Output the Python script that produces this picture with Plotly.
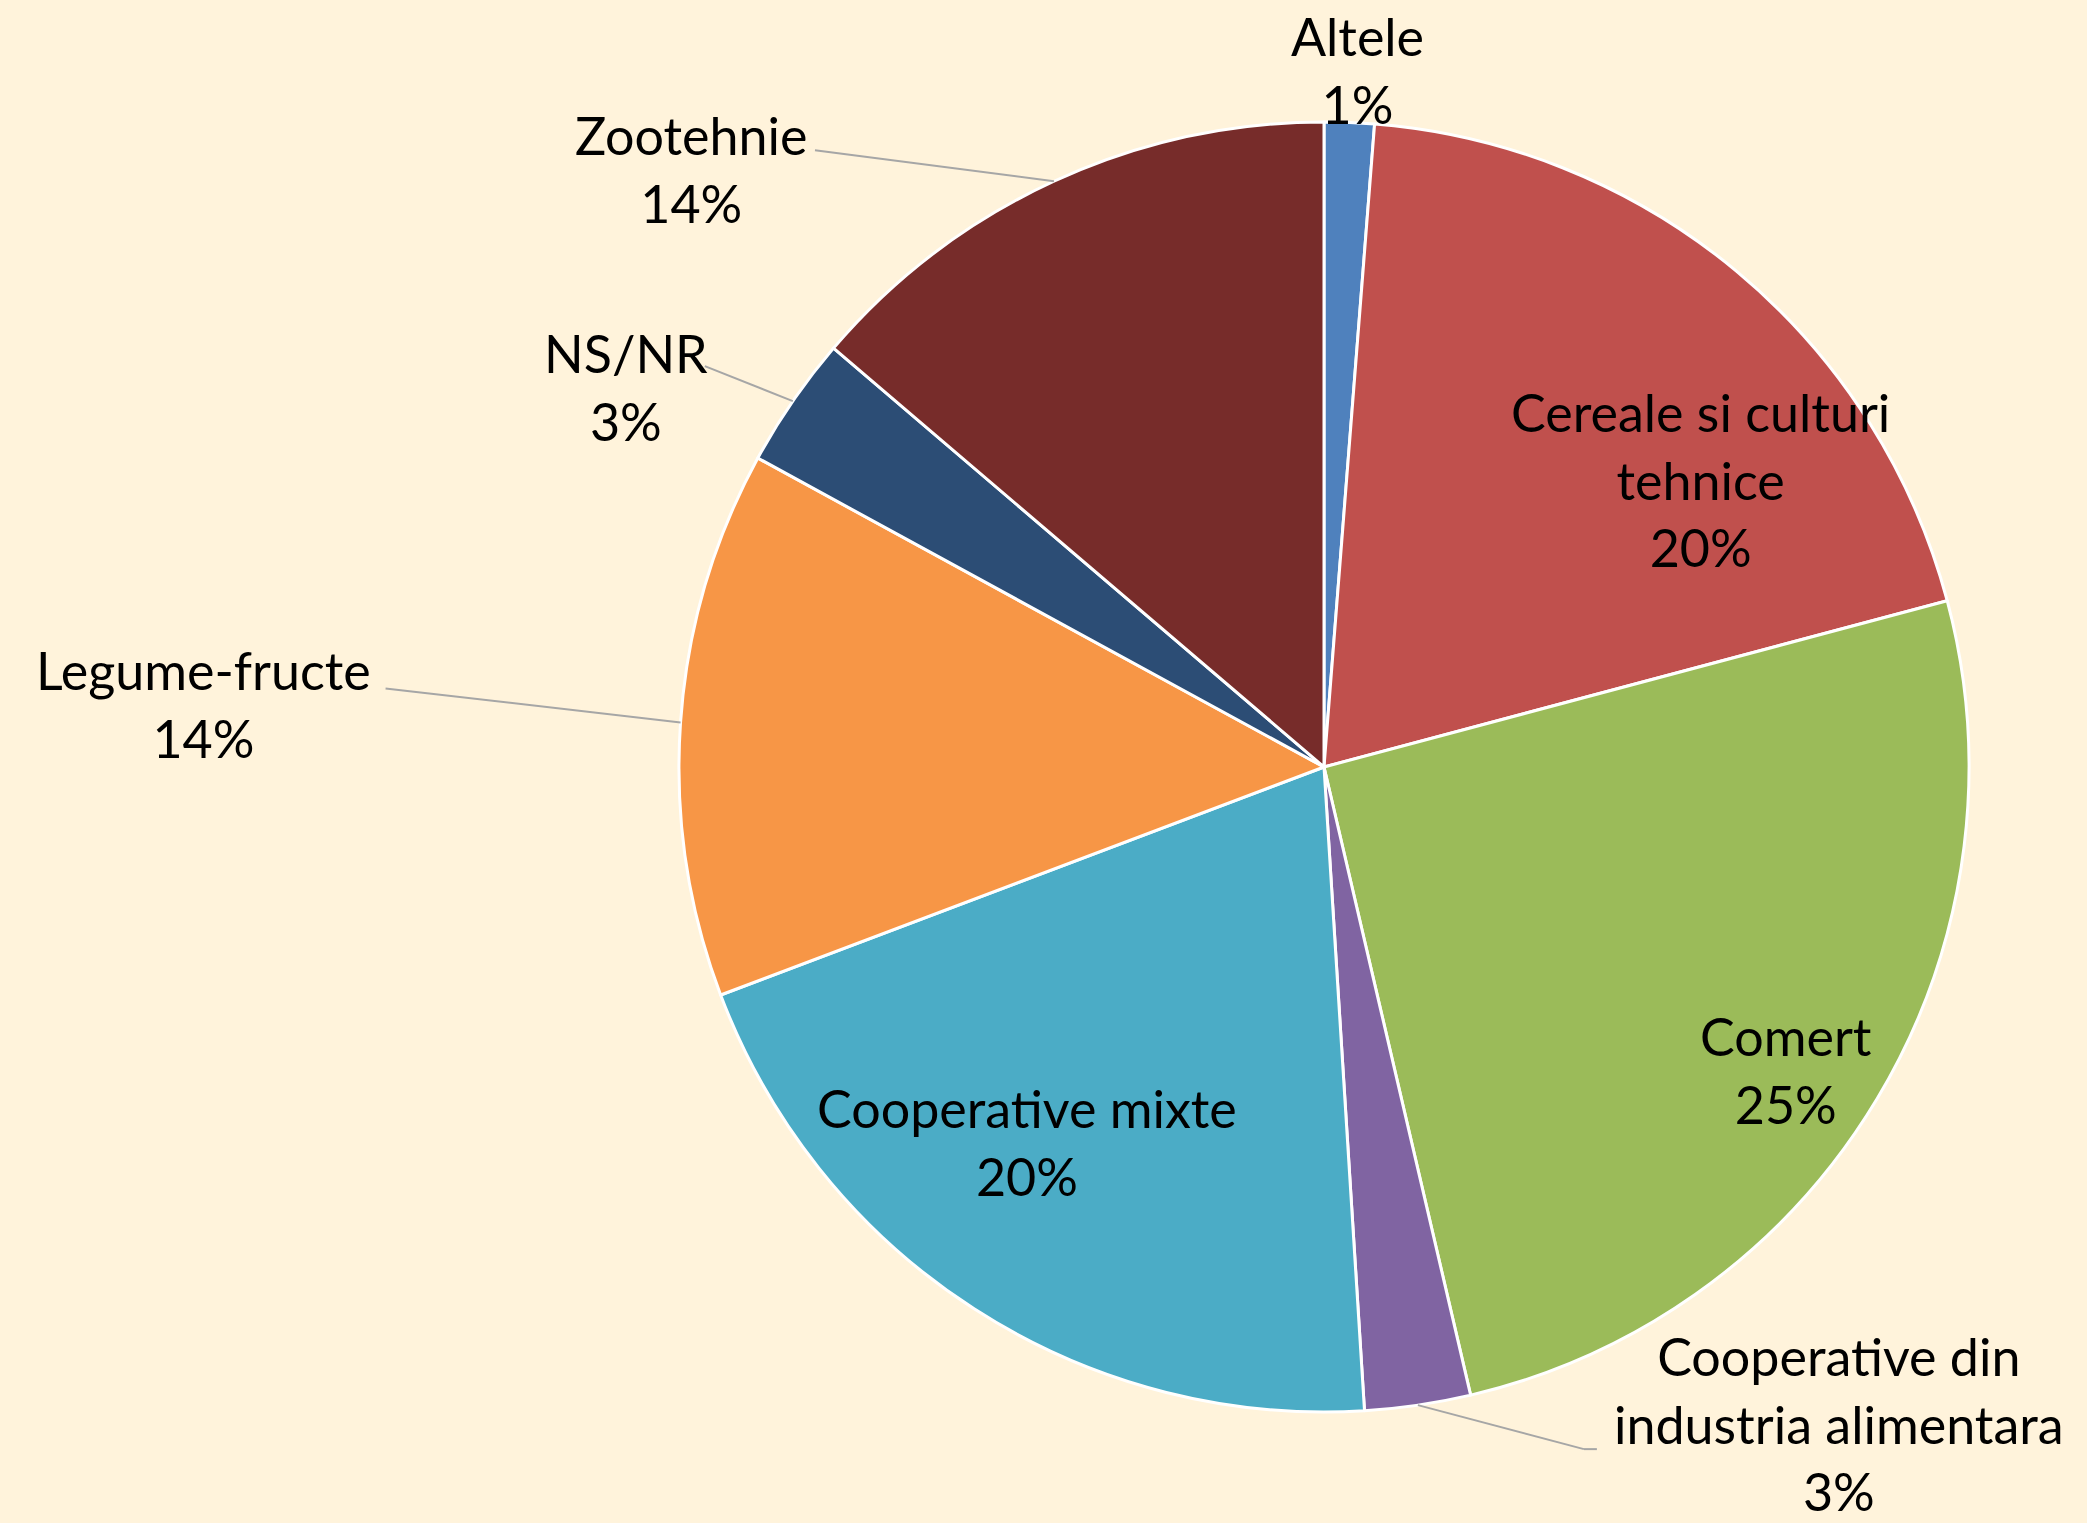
import math
import plotly.graph_objects as go

# ---- data ----
categories = ["Altele", "Cereale si culturi<br>tehnice", "Comert",
              "Cooperative din<br>industria alimentara", "Cooperative mixte",
              "Legume-fructe", "NS/NR", "Zootehnie"]
values = [1.25, 19.6, 25.5, 2.65, 20.25, 13.7, 3.3, 13.75]
pct_labels = ["1%", "20%", "25%", "3%", "20%", "14%", "3%", "14%"]
colors = ["#4F81BD", "#C0504D", "#9BBB59", "#8064A2", "#4BACC6",
          "#F79646", "#2C4D75", "#772C2A"]

# ---- layout / style ----
W, H = 2087, 1523
CX, CY, R = 1324, 767, 645        # pie centre and radius in pixels
BG = "#FFF3DB"
FONT = "Lato, 'Open Sans', sans-serif"
FSIZE = 52

# label offsets (pixels) from the slice's outer edge point at its mid angle
label_offset = [(8, -52), (-36, 208), (-91, -29), (421, 18), (53, -167),
                (-477, -18), (-167, -14), (-362, -12)]
# leader line target offsets relative to the label centre (None = no line)
leader = [None, None, None, [(-255, 26), (-242, 26)], None,
          [(182, -16)], [(79, -21)], [(123, -19)]]

def px2paper(x, y):
    return x / W, 1 - y / H

fig = go.Figure(go.Pie(
    labels=[c.replace("<br>", " ") for c in categories],
    values=values,
    sort=False,
    direction="clockwise",
    rotation=0,
    marker=dict(colors=colors, line=dict(color="white", width=3)),
    textinfo="none",
    hoverinfo="skip",
    domain=dict(x=[(CX - R) / W, (CX + R) / W],
                y=[(H - CY - R) / H, (H - CY + R) / H]),
    showlegend=False,
))

total = sum(values)
cum = 0.0
annotations, shapes = [], []
for i, v in enumerate(values):
    mid = (cum + v / 2) / total * 2 * math.pi
    cum += v
    ex = CX + R * math.sin(mid)
    ey = CY - R * math.cos(mid)
    lx, ly = ex + label_offset[i][0], ey + label_offset[i][1]
    ax, ay = px2paper(lx, ly)
    annotations.append(dict(
        x=ax, y=ay, xref="paper", yref="paper", xanchor="center", yanchor="middle",
        text=categories[i] + "<br>" + pct_labels[i], showarrow=False, align="center",
        font=dict(family=FONT, size=FSIZE, color="black")))
    if leader[i]:
        pts = [(ex, ey)] + [(lx + dx, ly + dy) for dx, dy in leader[i]]
        for (x0, y0), (x1, y1) in zip(pts[:-1], pts[1:]):
            p0 = px2paper(x0, y0)
            p1 = px2paper(x1, y1)
            shapes.append(dict(type="line", xref="paper", yref="paper",
                               x0=p0[0], y0=p0[1], x1=p1[0], y1=p1[1],
                               line=dict(color="#A6A6A6", width=2)))

fig.update_layout(
    width=W, height=H,
    margin=dict(l=0, r=0, t=0, b=0),
    paper_bgcolor=BG, plot_bgcolor=BG,
    annotations=annotations, shapes=shapes,
)
fig.write_html("out.html",
               config={"displayModeBar": False},
               post_script="document.body.style.margin='0';"
                           "document.body.style.overflow='hidden';")
